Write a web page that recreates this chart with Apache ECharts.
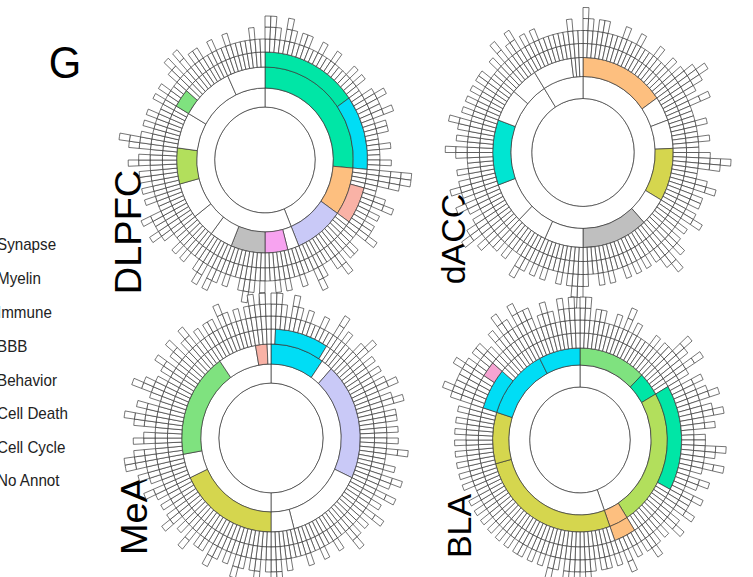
<!DOCTYPE html>
<html><head><meta charset="utf-8">
<script src="https://cdn.jsdelivr.net/npm/echarts@6/dist/echarts.min.js"></script>
<style>
html,body{margin:0;padding:0;background:#fff;overflow:hidden;width:753px;height:577px}
#c{width:793px;height:577px;transform:scaleX(0.95);transform-origin:0 0;}
</style>
</head><body><div id="c"></div>
<script>
// horizontal squeeze of the original figure
const SX = 0.95;

const palette = {
  w: '#ffffff', aq: '#00E6A6', cy: '#00DDF5', tq: '#00E5D2', lg: '#7FE27F',
  yg: '#B2DF5C', ol: '#D5D64E', or: '#FDBF7F', sa: '#F9B2A6', la: '#C9C9F7',
  pk: '#F7A3F0', pb: '#F6A4D2', gy: '#BFBFBF'
};

const legendLabels = ['Synapse', 'Myelin', 'Immune', 'BBB', 'Behavior', 'Cell Death', 'Cell Cycle', 'No Annot'];
const panelNames = ['DLPFC', 'dACC', 'MeA', 'BLA'];

// ---- DLPFC (units: columns of 2.5 degrees, 144 per circle) ----
const dlpfcL1 = [63, 81];
const dlpfcL2 = [[38,'aq'],[12,'or'],[13,'la'],[3,'w'],[6,'pk'],[9,'gy'],[6,'w'],[6,'w'],[9,'w'],[9,'yg'],[9,'w'],[14,'w'],[10,'w']];
const dlpfcL3 = [[0,22,'aq'],[22,16,'cy'],[42,8,'sa'],[120,4,'lg']];
const dlpfcL4 = [];
const dlpfcDepth = '33'+'213212'+'21121121112121'+'12322312'+'21121121'+'4431'+'123121223112'+'2132112311'+'21121211'+'31232112'+'123132112121'+'1232231121'+'21221321'+'342121'+'21121211'+'23131221'+'121121'+'111211';

// ---- dACC ----
const daccL1 = [131, 13];
const daccL2 = [[22,'or'],[6,'w'],[7,'w'],[13,'ol'],[7,'w'],[17,'gy'],[10,'w'],[8,'w'],[10,'w'],[16,'tq'],[8,'w'],[7,'w'],[10,'w'],[1,'w'],[1,'w'],[1,'w']];
const daccL3 = [];
const daccL4 = [];
const daccDepth = '3212'+'2111211211121121'+'23432131'+'11211211'+'2431'+'12312212312123'+'243212'+'121211212112'+'34212112'+'121231121223'+'24321231'+'232121'+'1231212312'+'121212211213'+'1231212111'+'111211';

// ---- MeA ----
const meaL1 = [72, 72];
const meaL2 = [[14,'cy'],[3,'w'],[29,'la'],[20,'w'],[6,'w'],[26,'ol'],[6,'w'],[26,'lg'],[10,'w'],[3,'sa'],[1,'w']];
const meaL3 = [[1,12,'cy']];
const meaL4 = [];
const meaDepth = '332132'+'121121'+'131211'+'231212'+'12312312'+'21212131'+'1213213121'+'3121231121'+'1211211121'+'332132'+'1231212312'+'2131213212'+'123123'+'24431321'+'342312'+'43212312'+'31231212'+'213212'+'123232';

// ---- BLA ----
const blaL1 = [64, 80];
const blaL2 = [[18,'lg'],[6,'aq'],[35,'yg'],[5,'or'],[38,'ol'],[13,'ol'],[18,'cy'],[11,'cy']];
const blaL3 = [[24,23,'aq'],[59,5,'or'],[115,9,'cy']];
const blaL4 = [[121,3,'pb']];
const blaDepth = '3312'+'21121312111212'+'24324213'+'2342342312'+'243242132132'+'231231212321'+'2131212212'+'3242312312'+'121221212121'+'212121121212'+'121212121213'+'43334323'+'3213243243'+'3123213232';

// ring radii (px) per panel: root, L1, L2, L3, L4..L7
const dlpfcR = [53, 72, 93, 108, 121, 133, 144, 155];
const daccR  = [54, 76, 95, 109, 122, 134, 145, 156];
const meaR   = [55, 74, 94, 109, 122, 134, 145, 156];
const blaR   = [53, 75, 92, 107, 120, 132, 143, 154];

// panel centres in picture px
const centers = [[265,160],[583,152.5],[271,438],[580,440]];

function spacer() {
  return { value: 1, itemStyle: { color: 'rgba(0,0,0,0)', borderWidth: 0, borderColor: 'rgba(0,0,0,0)' } };
}
function chain(k) {
  const n = { value: 1, itemStyle: { color: '#ffffff' } };
  if (k > 1) n.children = [chain(k - 1)];
  return n;
}
function colNode(d) { return d > 0 ? chain(d) : spacer(); }

function build(L1, L2, L3c, L4c, depthStr) {
  const depth = depthStr.split('').map(Number);
  const N = depth.length;
  const l3map = {}; L3c.forEach(s => { l3map[s[0]] = s; });
  const l4map = {}; L4c.forEach(s => { l4map[s[0]] = s; });
  const l3 = [];
  let c = 0;
  while (c < N) {
    if (l3map[c]) { l3.push(l3map[c]); c += l3map[c][1]; }
    else { l3.push([c, 1, 'w']); c++; }
  }
  function l3Children(start, count) {
    const ch = []; let k = start;
    while (k < start + count) {
      if (l4map[k]) {
        const [s, n, col] = l4map[k];
        const kids = [];
        for (let j = s; j < s + n; j++) kids.push(colNode(depth[j] - 1));
        ch.push({ value: n, itemStyle: { color: palette[col] }, children: kids });
        k += n;
      } else { ch.push(colNode(depth[k])); k++; }
    }
    return ch;
  }
  const l3nodes = l3.map(([s, n, col]) => ({ start: s, node: { value: n, itemStyle: { color: palette[col] }, children: l3Children(s, n) } }));
  let pos = 0, i3 = 0;
  const l2nodes = L2.map(([n, col]) => {
    const end = pos + n, kids = [];
    while (i3 < l3nodes.length && l3nodes[i3].start < end) { kids.push(l3nodes[i3].node); i3++; }
    const r = { start: pos, node: { value: n, itemStyle: { color: palette[col] }, children: kids } };
    pos = end; return r;
  });
  pos = 0; let i2 = 0;
  const l1nodes = L1.map(n => {
    const end = pos + n, kids = [];
    while (i2 < l2nodes.length && l2nodes[i2].start < end) { kids.push(l2nodes[i2].node); i2++; }
    pos = end;
    return { value: n, itemStyle: { color: '#ffffff' }, children: kids };
  });
  return [{ value: N, itemStyle: { color: '#ffffff' }, children: l1nodes }];
}

function levels(R) {
  const lv = [{}]; let prev = 0;
  R.forEach(r => { lv.push({ r0: prev, r: r }); prev = r; });
  return lv;
}

const panels = [
  [dlpfcL1, dlpfcL2, dlpfcL3, dlpfcL4, dlpfcDepth, dlpfcR],
  [daccL1, daccL2, daccL3, daccL4, daccDepth, daccR],
  [meaL1, meaL2, meaL3, meaL4, meaDepth, meaR],
  [blaL1, blaL2, blaL3, blaL4, blaDepth, blaR]
];

const series = panels.map((p, i) => ({
  type: 'sunburst',
  name: panelNames[i],
  center: [centers[i][0] / SX, centers[i][1]],
  radius: [0, p[5][p[5].length - 1]],
  sort: null,
  startAngle: 90,
  clockwise: true,
  nodeClick: false,
  silent: true,
  animation: false,
  label: { show: false },
  emphasis: { disabled: true },
  itemStyle: { borderColor: '#333333', borderWidth: 0.7 },
  levels: levels(p[5]),
  data: build(p[0], p[1], p[2], p[3], p[4])
}));

const labelPos = [[128.5, 232], [454, 239], [134, 516], [460, 526]];
const labelSize = [38, 34, 38, 34];
const graphics = [];
graphics.push({ type: 'text', x: 65 / SX, y: 63, style: { text: 'G', font: '44px "Liberation Sans", Arial, sans-serif', fill: '#000', textAlign: 'center', textVerticalAlign: 'middle', align: 'center', verticalAlign: 'middle' } });
panelNames.forEach((n, i) => {
  graphics.push({ type: 'text', x: labelPos[i][0] / SX, y: labelPos[i][1], rotation: Math.PI / 2,
    style: { text: n, font: labelSize[i] + 'px "Liberation Sans", Arial, sans-serif', fill: '#000', textAlign: 'center', textVerticalAlign: 'middle', align: 'center', verticalAlign: 'middle' } });
});
const legendY = [244, 278, 312, 346, 380, 413, 447, 480];
legendLabels.forEach((t, i) => {
  graphics.push({ type: 'text', x: -3 / SX, y: legendY[i], style: { text: t, font: '16px "Liberation Sans", Arial, sans-serif', fill: '#222', textAlign: 'left', textVerticalAlign: 'middle', align: 'left', verticalAlign: 'middle' } });
});

const chart = echarts.init(document.getElementById('c'), null, { renderer: 'svg' });
chart.setOption({ animation: false, backgroundColor: '#ffffff', series: series, graphic: graphics });
</script>
</body></html>
